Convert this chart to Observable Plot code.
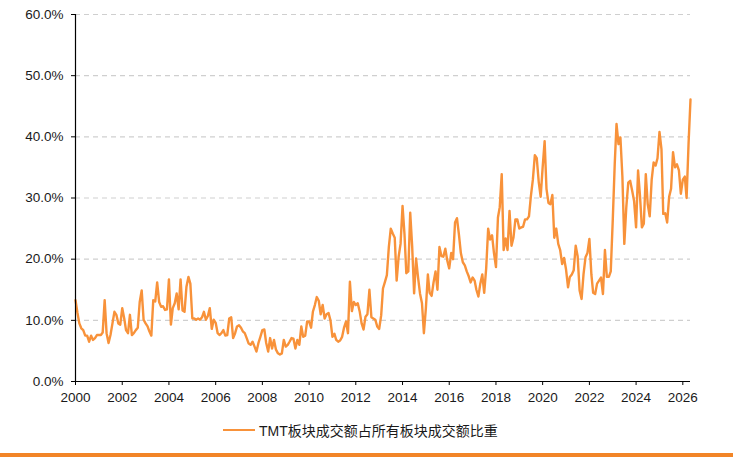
<!DOCTYPE html>
<html><head><meta charset="utf-8">
<script src="https://cdn.jsdelivr.net/npm/d3@7"></script>
<script src="https://cdn.jsdelivr.net/npm/@observablehq/plot@0.6"></script>
<style>
body{margin:0;background:#fff;font-family:"Liberation Sans",Arial,sans-serif;}
#wrap{position:relative;width:733px;height:463px;overflow:hidden;background:#fff;}
#legend{position:absolute;left:223px;top:420px;height:20px;display:flex;align-items:center;font-size:14px;color:#1a1a1a;font-family:"Liberation Sans","Noto Sans CJK SC",sans-serif;white-space:nowrap;}
#legend .sw{display:inline-block;width:32px;height:2.5px;background:#F8923A;margin-right:4px;}
#bar{position:absolute;left:0;top:453px;width:733px;height:4px;background:#F28527;}
</style></head>
<body><div id="wrap"><div id="chart"></div><div id="legend"><span class="sw"></span><span id="lgtext"></span></div><div id="bar"></div></div>
<script>
const seriesName = "TMT板块成交额占所有板块成交额比重";
const startMonth = "2000-01";
// monthly share (%), 2000-01 .. 2026-05
const values = [
  13.3, 11.2, 9.5, 8.7, 8.4, 7.5, 7.5, 6.5, 7.5, 6.8, 7.1, 7.6,
  7.6, 7.6, 8.0, 13.3, 7.9, 6.3, 7.6, 9.5, 11.4, 10.9, 9.5, 9.3,
  12.0, 10.3, 8.4, 7.9, 10.9, 7.6, 7.9, 8.4, 8.8, 13.0, 14.9, 10.1,
  9.5, 9.0, 8.2, 7.5, 13.3, 13.1, 16.2, 13.0, 12.2, 12.3, 11.7, 11.8,
  16.7, 9.3, 12.0, 12.8, 14.4, 11.8, 16.7, 11.6, 11.4, 15.5, 17.1, 16.0,
  10.3, 10.3, 10.1, 10.3, 10.1, 10.5, 11.4, 10.1, 10.7, 12.0, 8.6, 10.1,
  9.6, 7.9, 7.6, 7.9, 8.4, 7.5, 7.6, 10.3, 10.5, 7.1, 7.9, 9.0,
  9.2, 8.8, 8.2, 7.9, 7.1, 6.2, 6.0, 6.5, 5.7, 4.9, 6.3, 7.3,
  8.4, 8.5, 6.3, 4.9, 7.1, 5.4, 6.8, 5.2, 4.6, 4.4, 4.6, 6.8,
  5.7, 6.0, 6.5, 7.1, 7.0, 5.4, 6.8, 6.0, 9.0, 7.3, 7.5, 9.8,
  9.8, 8.8, 11.4, 12.5, 13.8, 13.2, 11.0, 12.5, 10.3, 11.0, 11.2, 10.0,
  7.3, 7.8, 6.8, 6.5, 6.7, 7.3, 8.8, 9.8, 7.9, 16.3, 11.5, 13.0,
  12.5, 12.8, 11.5, 9.5, 8.5, 10.6, 11.0, 15.0, 10.5, 10.3, 10.1, 9.0,
  8.6, 10.8, 15.2, 16.3, 17.4, 22.0, 25.0, 24.2, 23.5, 16.5, 20.4, 22.5,
  28.7, 24.0, 17.7, 18.0, 27.6, 22.0, 14.4, 20.1, 17.0, 14.4, 12.8, 7.9,
  12.0, 17.5, 14.5, 14.0, 16.2, 18.0, 15.0, 22.0, 20.5, 20.4, 21.7, 19.8,
  18.5, 21.0, 20.0, 26.0, 26.7, 24.0, 21.0, 19.5, 19.0, 18.0, 17.2, 16.2,
  17.0, 16.5, 15.0, 13.9, 16.0, 17.5, 14.5, 18.5, 25.0, 23.2, 23.9, 21.0,
  18.7, 26.8, 28.5, 33.9, 21.5, 23.4, 21.5, 27.9, 22.2, 23.5, 26.5, 26.5,
  25.0, 25.2, 25.3, 26.5, 26.5, 27.0, 30.3, 33.0, 37.0, 36.5, 32.6, 30.2,
  35.0, 39.3, 31.5, 29.2, 29.0, 30.5, 23.5, 25.0, 22.5, 21.5, 19.2, 20.2,
  18.3, 15.4, 17.1, 17.5, 18.2, 22.2, 20.5, 14.9, 13.5, 17.5, 20.3, 21.0,
  23.3, 17.5, 14.5, 14.3, 16.0, 16.5, 17.0, 14.3, 21.5, 17.1, 17.1, 18.0,
  26.3, 35.5, 42.1, 38.8, 39.9, 33.5, 22.5, 28.5, 32.5, 32.8, 31.2, 29.5,
  25.2, 34.5, 30.5, 25.2, 25.8, 33.9, 29.0, 27.0, 33.0, 35.8, 35.3, 36.5,
  40.8, 38.0, 27.4, 27.5, 26.0, 30.2, 31.5, 37.5, 35.0, 35.5, 34.5, 30.7,
  33.0, 33.5, 30.0, 39.0, 46.1
];
const yTicks = [0, 10, 20, 30, 40, 50, 60];
const xTickYears = [2000, 2002, 2004, 2006, 2008, 2010, 2012, 2014, 2016, 2018, 2020, 2022, 2024, 2026];

document.getElementById("lgtext").textContent = seriesName;

const start = d3.utcParse("%Y-%m")(startMonth);
const data = values.map((v, i) => ({date: d3.utcMonth.offset(start, i), value: v}));
const end = data[data.length - 1].date;

const chart = Plot.plot({
  width: 733,
  height: 415,
  marginLeft: 75,
  marginRight: 43,
  marginTop: 14,
  marginBottom: 34,
  style: {fontFamily: '"Liberation Sans", Arial, sans-serif', fontSize: "13.5px", color: "#1a1a1a", background: "#fff"},
  x: {type: "utc", domain: [start, end]},
  y: {domain: [0, 60]},
  marks: [
    Plot.gridY(yTicks, {stroke: "#cfcfcf", strokeOpacity: 1, strokeDasharray: "5,4", strokeWidth: 1.2}),
    Plot.line(data, {x: "date", y: "value", stroke: "#F8923A", strokeWidth: 2.4, strokeLinejoin: "round"}),
    Plot.ruleX([start], {stroke: "#000", strokeWidth: 1.2}),
    Plot.ruleY([0], {stroke: "#000", strokeWidth: 1.2}),
    Plot.axisY(yTicks, {tickSize: 4, tickPadding: 8, tickFormat: d => d.toFixed(1) + "%", stroke: "#000", label: null}),
    Plot.axisX(xTickYears.map(y => new Date(Date.UTC(y, 0, 1))), {tickSize: 4, tickPadding: 7, tickFormat: d3.utcFormat("%Y"), stroke: "#000", label: null})
  ]
});
document.getElementById("chart").appendChild(chart);
</script>
</body></html>
